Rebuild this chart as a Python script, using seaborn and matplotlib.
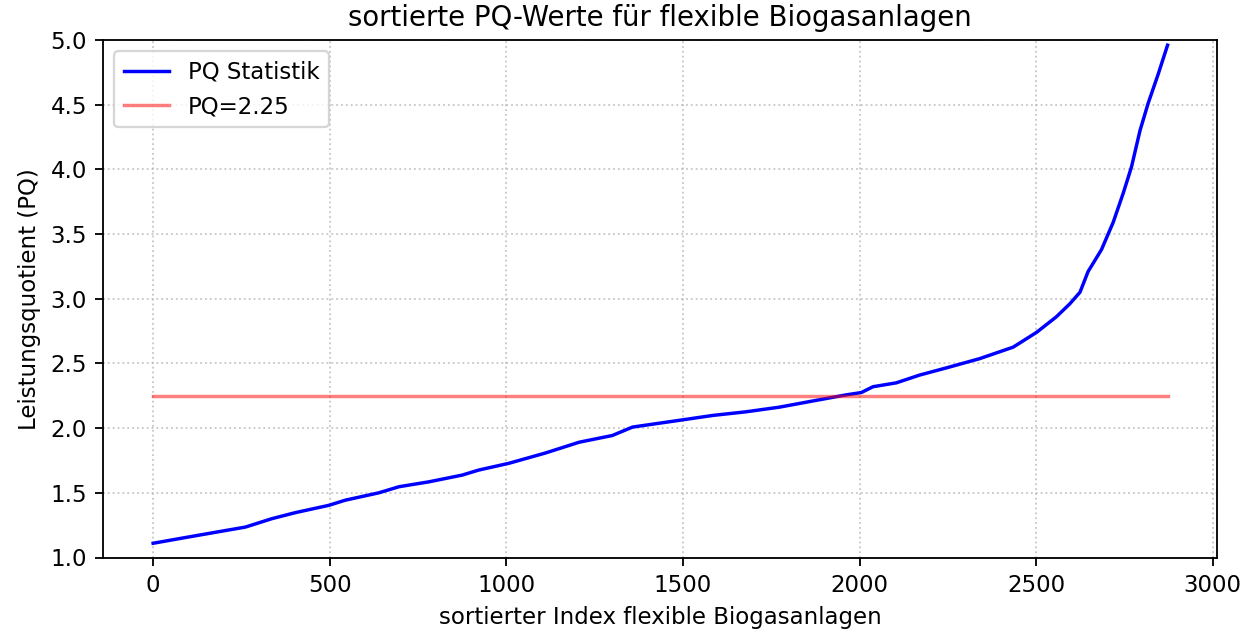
import matplotlib
matplotlib.use("Agg")
import matplotlib.pyplot as plt
import seaborn as sns
import pandas as pd

# sorted index positions (anchors) and PQ values
idx = [0, 72, 166, 261, 336, 403, 497, 544, 639, 696, 781, 875, 922, 1007,
       1111, 1206, 1300, 1357, 1489, 1584, 1678, 1773, 1868, 1962, 2005,
       2038, 2104, 2170, 2245, 2340, 2435, 2501, 2557, 2595, 2624, 2647,
       2685, 2718, 2747, 2770, 2794, 2817, 2846, 2872]
pq = [1.11, 1.145, 1.19, 1.235, 1.30, 1.347, 1.403, 1.443, 1.50, 1.547,
      1.585, 1.637, 1.676, 1.728, 1.808, 1.891, 1.943, 2.008, 2.06, 2.098,
      2.126, 2.162, 2.21, 2.257, 2.275, 2.32, 2.35, 2.41, 2.465, 2.537,
      2.626, 2.74, 2.86, 2.96, 3.05, 3.21, 3.38, 3.59, 3.82, 4.02, 4.30,
      4.51, 4.74, 4.96]
n_plants = 2873
pq_threshold = 2.25

title = "sortierte PQ-Werte für flexible Biogasanlagen"
xlabel = "sortierter Index flexible Biogasanlagen"
ylabel = "Leistungsquotient (PQ)"

df = pd.DataFrame({"idx": idx, "pq": pq})
thr = pd.DataFrame({"idx": [0, n_plants], "pq": [pq_threshold, pq_threshold]})

DPI = 165
fig = plt.figure(figsize=(1242 / DPI, 630 / DPI), dpi=DPI)
ax = fig.add_axes([103/1242, (630-557.5)/630, 1114/1242, 517.5/630])

sns.lineplot(data=df, x="idx", y="pq", ax=ax, color="blue", linewidth=1.5,
             label="PQ Statistik")
sns.lineplot(data=thr, x="idx", y="pq", ax=ax, color="red", alpha=0.5,
             linewidth=1.5, label=f"PQ={pq_threshold}")

ax.set_ylim(1.0, 5.0)
ax.set_xlim(-142, 3012)
ax.set_xticks([0, 500, 1000, 1500, 2000, 2500, 3000])
ax.set_yticks([1.0, 1.5, 2.0, 2.5, 3.0, 3.5, 4.0, 4.5, 5.0])
ax.grid(True, linestyle=":", color="#b0b0b0", linewidth=0.8, alpha=0.7)
ax.tick_params(labelsize=10)
ax.set_title(title, fontsize=12)
ax.set_xlabel(xlabel, fontsize=10)
ax.set_ylabel(ylabel, fontsize=10)
ax.legend(loc="upper left", fontsize=10)

fig.savefig("out.png", dpi=DPI)
